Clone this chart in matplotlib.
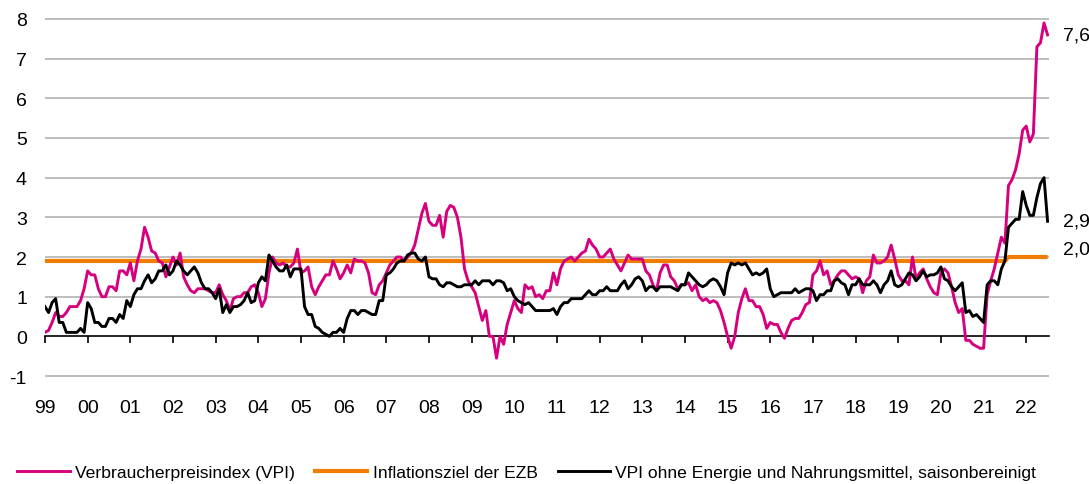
import matplotlib
matplotlib.use("Agg")
import matplotlib.pyplot as plt
import matplotlib.transforms as mtransforms
from matplotlib.lines import Line2D

plt.rcParams['font.family'] = ['Liberation Sans', 'DejaVu Sans']

# Monatswerte, Jahresveraenderung in %, Dez 1998 .. Jun 2022 (je Zeile 12 Monate)
vpi = [
    0.1, 0.15, 0.35, 0.6, 0.5, 0.5, 0.6, 0.75, 0.75, 0.75, 0.9, 1.2,
    1.65, 1.55, 1.55, 1.2, 1.0, 1.0, 1.25, 1.25, 1.15, 1.65, 1.65, 1.55,
    1.85, 1.4, 1.9, 2.2, 2.75, 2.5, 2.15, 2.1, 1.9, 1.85, 1.5, 1.75,
    2.0, 1.8, 2.1, 1.5, 1.3, 1.15, 1.1, 1.2, 1.2, 1.2, 1.15, 1.1,
    1.1, 1.3, 1.05, 0.9, 0.65, 0.95, 1.0, 1.0, 1.1, 1.1, 1.25, 1.3,
    1.1, 0.75, 0.95, 1.6, 2.0, 1.85, 1.8, 1.85, 1.75, 1.75, 1.85, 2.2,
    1.6, 1.65, 1.75, 1.25, 1.05, 1.25, 1.4, 1.55, 1.55, 1.9, 1.7, 1.45,
    1.6, 1.8, 1.6, 1.95, 1.9, 1.9, 1.85, 1.6, 1.1, 1.05, 1.3, 1.4,
    1.6, 1.8, 1.9, 2.0, 2.0, 1.9, 2.0, 2.1, 2.3, 2.7, 3.1, 3.35,
    2.9, 2.8, 2.8, 3.05, 2.5, 3.15, 3.3, 3.25, 3.0, 2.5, 1.7, 1.4,
    1.25, 1.1, 0.75, 0.4, 0.65, 0.0, 0.0, -0.55, 0.0, -0.2, 0.3, 0.6,
    0.9, 0.7, 0.6, 1.3, 1.2, 1.25, 1.0, 1.05, 0.95, 1.15, 1.15, 1.6,
    1.3, 1.7, 1.9, 1.95, 2.0, 1.9, 2.0, 2.1, 2.15, 2.45, 2.3, 2.2,
    2.0, 2.0, 2.1, 2.2, 1.95, 1.8, 1.65, 1.85, 2.05, 1.95, 1.95, 1.95,
    1.95, 1.65, 1.55, 1.3, 1.15, 1.6, 1.8, 1.8, 1.5, 1.4, 1.2, 1.3,
    1.3, 1.35, 1.15, 1.3, 1.0, 0.9, 0.95, 0.85, 0.9, 0.85, 0.65, 0.35,
    0.0, -0.3, 0.0, 0.6, 0.95, 1.2, 0.9, 0.9, 0.75, 0.75, 0.55, 0.2,
    0.35, 0.3, 0.3, 0.1, -0.05, 0.2, 0.4, 0.45, 0.45, 0.6, 0.8, 0.85,
    1.55, 1.65, 1.9, 1.55, 1.65, 1.3, 1.4, 1.55, 1.65, 1.65, 1.55, 1.45,
    1.5, 1.45, 1.1, 1.4, 1.5, 2.05, 1.85, 1.85, 1.9, 2.0, 2.3, 1.95,
    1.55, 1.4, 1.4, 1.3, 2.0, 1.45, 1.6, 1.7, 1.45, 1.25, 1.1, 1.05,
    1.6, 1.7, 1.6, 1.25, 0.85, 0.6, 0.7, -0.1, -0.1, -0.2, -0.25, -0.3,
    -0.3, 1.05, 1.4, 1.7, 2.1, 2.5, 2.35, 3.8, 3.95, 4.2, 4.6, 5.2,
    5.3, 4.9, 5.1, 7.3, 7.4, 7.9, 7.6,
]

vpi_kern = [
    0.75, 0.6, 0.85, 0.95, 0.35, 0.35, 0.1, 0.1, 0.1, 0.1, 0.2, 0.1,
    0.85, 0.7, 0.35, 0.35, 0.25, 0.25, 0.45, 0.45, 0.35, 0.55, 0.45, 0.9,
    0.75, 1.05, 1.2, 1.2, 1.4, 1.55, 1.35, 1.45, 1.65, 1.65, 1.8, 1.55,
    1.65, 1.9, 1.8, 1.65, 1.55, 1.65, 1.75, 1.6, 1.35, 1.2, 1.2, 1.1,
    0.95, 1.2, 0.6, 0.8, 0.6, 0.75, 0.75, 0.8, 0.9, 1.1, 0.85, 0.9,
    1.35, 1.5, 1.4, 2.05, 1.9, 1.75, 1.65, 1.65, 1.8, 1.5, 1.7, 1.7,
    1.7, 0.75, 0.55, 0.55, 0.25, 0.2, 0.1, 0.05, 0.0, 0.1, 0.1, 0.2,
    0.1, 0.45, 0.65, 0.65, 0.55, 0.65, 0.65, 0.6, 0.55, 0.55, 0.9, 0.9,
    1.55, 1.6, 1.7, 1.85, 1.9, 1.9, 2.05, 2.1, 2.1, 1.95, 1.9, 2.0,
    1.5, 1.45, 1.45, 1.3, 1.25, 1.35, 1.35, 1.3, 1.25, 1.25, 1.3, 1.3,
    1.3, 1.4, 1.3, 1.4, 1.4, 1.4, 1.3, 1.4, 1.4, 1.35, 1.15, 1.2,
    1.0, 0.9, 0.85, 0.8, 0.85, 0.75, 0.65, 0.65, 0.65, 0.65, 0.65, 0.7,
    0.55, 0.75, 0.85, 0.85, 0.95, 0.95, 0.95, 0.95, 1.05, 1.15, 1.05, 1.05,
    1.15, 1.15, 1.25, 1.15, 1.15, 1.15, 1.3, 1.4, 1.2, 1.3, 1.45, 1.5,
    1.4, 1.15, 1.25, 1.25, 1.15, 1.25, 1.25, 1.25, 1.25, 1.2, 1.15, 1.3,
    1.3, 1.6, 1.5, 1.4, 1.3, 1.25, 1.3, 1.4, 1.45, 1.4, 1.25, 1.05,
    1.6, 1.85, 1.8, 1.85, 1.8, 1.85, 1.7, 1.55, 1.6, 1.55, 1.6, 1.7,
    1.2, 1.0, 1.05, 1.1, 1.1, 1.1, 1.1, 1.2, 1.1, 1.15, 1.2, 1.2,
    1.15, 0.9, 1.05, 1.05, 1.15, 1.15, 1.4, 1.45, 1.35, 1.3, 1.05, 1.3,
    1.3, 1.45, 1.3, 1.3, 1.3, 1.4, 1.3, 1.1, 1.3, 1.4, 1.65, 1.3,
    1.25, 1.3, 1.45, 1.6, 1.55, 1.4, 1.5, 1.65, 1.5, 1.55, 1.55, 1.6,
    1.75, 1.45, 1.4, 1.25, 1.15, 1.25, 1.35, 0.6, 0.65, 0.5, 0.55, 0.45,
    0.35, 1.3, 1.4, 1.4, 1.3, 1.7, 1.9, 2.75, 2.85, 2.95, 2.95, 3.65,
    3.3, 3.05, 3.05, 3.5, 3.85, 4.0, 2.9,
]

# Inflationsziel der EZB: Stuetzpunkte (Monatsindex, Wert)
ziel_monat = [0, 270, 271, 282]
ziel_wert = [1.9, 1.9, 2.0, 2.0]

jahre = ['99', '00', '01', '02', '03', '04', '05', '06', '07', '08', '09', '10',
         '11', '12', '13', '14', '15', '16', '17', '18', '19', '20', '21', '22']

PINK = '#D6007F'
ORANGE = '#F07D00'

fig = plt.figure(figsize=(10.89, 4.85), dpi=100)
ax = fig.add_axes([45 / 1089, 106 / 485, 1004 / 1089, 361 / 485])

monate = list(range(len(vpi)))
ax.plot(ziel_monat, ziel_wert, color=ORANGE, lw=3.0, zorder=3, solid_capstyle='butt')
ax.plot(monate, vpi, color=PINK, lw=2.1, zorder=4)
ax.plot(monate, vpi_kern, color='black', lw=2.1, zorder=5)

ax.set_xlim(0, 282.4)
ax.set_ylim(-1.05, 8.05)

# horizontale Gitterlinien
for y in range(-1, 9):
    if y != 0:
        ax.axhline(y, color='#bdbdbd', lw=1.4, zorder=1)

ax.set_yticks(range(-1, 9))
ax.set_yticklabels([str(v) for v in range(-1, 9)])
ax.tick_params(axis='y', length=0, pad=13, labelsize=14)

ax.set_xticks([12 * i for i in range(len(jahre))])
ax.set_xticklabels(jahre)
ax.spines['bottom'].set_position(('data', 0))
ax.spines['bottom'].set_linewidth(1.2)
ax.spines['bottom'].set_zorder(2)
ax.tick_params(axis='x', direction='out', length=5, width=1.2, pad=40, labelsize=14)
for s in ['top', 'right', 'left']:
    ax.spines[s].set_visible(False)

# Endwerte rechts
trans = mtransforms.blended_transform_factory(ax.transAxes, ax.transData)
for wert, dy in [(vpi[-1], 0.0), (vpi_kern[-1], 0.0), (ziel_wert[-1], 0.2)]:
    ax.text(1.0135, wert + dy, f"{wert:.1f}".replace('.', ','), transform=trans,
            ha='left', va='center', fontsize=14, clip_on=False)

handles = [
    Line2D([], [], color=PINK, lw=2.1),
    Line2D([], [], color=ORANGE, lw=3.0),
    Line2D([], [], color='black', lw=2.1),
]
labels = ['Verbraucherpreisindex (VPI)', 'Inflationsziel der EZB',
          'VPI ohne Energie und Nahrungsmittel, saisonbereinigt']
fig.legend(handles, labels, loc='center left', bbox_to_anchor=(17 / 1089, 12 / 485),
           ncol=3, frameon=False, handlelength=3.0, handletextpad=0.3,
           columnspacing=1.15, borderpad=0, borderaxespad=0,
           prop={'size': 12.6})

fig.savefig('out.png', dpi=100)
